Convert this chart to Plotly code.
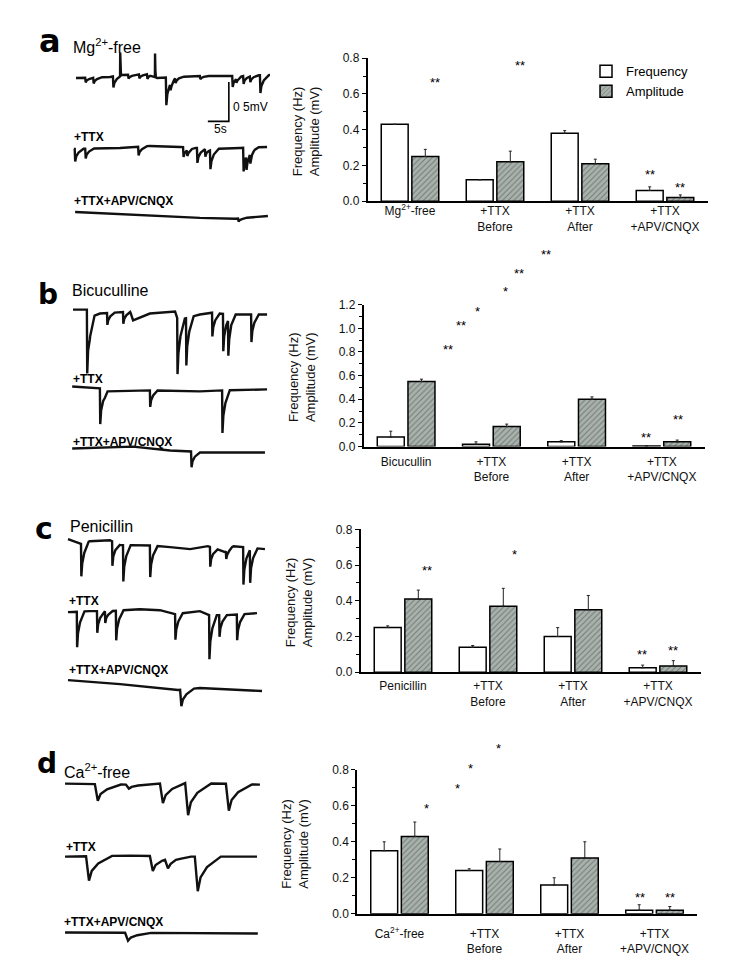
import numpy as np
import plotly.graph_objects as go

W, H = 749, 972
FONT = "Liberation Sans, Arial, sans-serif"

# ---------------- bar-chart data ----------------
cats_a = ["Mg<sup>2+</sup>-free", "+TTX<br>Before", "+TTX<br>After", "+TTX<br>+APV/CNQX"]
cats_b = ["Bicucullin", "+TTX<br>Before", "+TTX<br>After", "+TTX<br>+APV/CNQX"]
cats_c = ["Penicillin", "+TTX<br>Before", "+TTX<br>After", "+TTX<br>+APV/CNQX"]
cats_d = ["Ca<sup>2+</sup>-free", "+TTX<br>Before", "+TTX<br>After", "+TTX<br>+APV/CNQX"]

freq_a = [0.43, 0.12, 0.38, 0.06]
freq_err_a = [0.0, 0.0, 0.015, 0.02]
amp_a = [0.25, 0.22, 0.21, 0.02]
amp_err_a = [0.04, 0.06, 0.025, 0.015]

freq_b = [0.08, 0.02, 0.04, 0.005]
freq_err_b = [0.05, 0.02, 0.01, 0.0]
amp_b = [0.55, 0.17, 0.40, 0.04]
amp_err_b = [0.02, 0.02, 0.02, 0.015]

freq_c = [0.25, 0.14, 0.20, 0.025]
freq_err_c = [0.01, 0.01, 0.05, 0.015]
amp_c = [0.41, 0.37, 0.35, 0.035]
amp_err_c = [0.05, 0.10, 0.08, 0.03]

freq_d = [0.35, 0.24, 0.16, 0.02]
freq_err_d = [0.05, 0.01, 0.04, 0.03]
amp_d = [0.43, 0.29, 0.31, 0.02]
amp_err_d = [0.08, 0.07, 0.09, 0.02]

y_max = {"a": 0.8, "b": 1.2, "c": 0.8, "d": 0.8}

# significance marks: (category position, value, text)
stars_a = [(0.29, 0.667, "**"), (1.29, 0.76, "**"), (2.82, 0.15, "**"), (3.18, 0.077, "**")]
stars_b = [(0.49, 0.825, "**"), (0.64, 1.025, "**"), (0.84, 1.14, "*"), (1.17, 1.31, "*"),
           (1.32, 1.46, "**"), (1.64, 1.625, "**"), (2.81, 0.075, "**"), (3.19, 0.225, "**")]
stars_c = [(0.28, 0.568, "**"), (1.31, 0.657, "*"), (2.81, 0.10, "**"), (3.18, 0.12, "**")]
stars_d = [(0.32, 0.586, "*"), (0.68, 0.696, "*"), (0.84, 0.805, "*"), (1.16, 0.92, "*"),
           (2.83, 0.093, "**"), (3.18, 0.093, "**")]

# ---------------- electrophysiology traces (time s, potential mV) ----------------
a1_base_t = [3.8, 11.9, 14.5, 21.4, 23.1, 33.3, 40.5, 50.0]
a1_base_v = [-0.525, -0.513, -0.488, -0.475, -0.525, -0.5, -0.5, -0.488]
a1_ev_t = [6.0, 7.9, 12.6, 16.2, 18.8, 20.7, 25.2, 26.2, 27.4, 33.3, 41.0, 41.9, 43.6, 45.2, 47.6]
a1_ev_a = [0.06, 0.075, 0.14, 0.05, 0.05, 0.06, 0.35, 0.075, 0.06, 0.04, 0.14, 0.05, 0.1, 0.075, 0.225]
a1_spk_t = [14.3, 22.6]
a1_spk_a = [-0.3, -0.3]

a2_base_t = [3.3, 14.3, 21.4, 28.6, 36.9, 42.9, 49.3]
a2_base_v = [-1.425, -1.4125, -1.3875, -1.4, -1.425, -1.4125, -1.4]
a2_ev_t = [3.5, 6.0, 18.6, 29.3, 30.2, 32.6, 34.5, 35.7, 43.6, 44.3, 45.2]
a2_ev_a = [0.16, 0.125, 0.11, 0.125, 0.075, 0.19, 0.1, 0.24, 0.3, 0.175, 0.125]

a3_base_t = [3.6, 14.3, 23.8, 33.3, 41.7, 49.5]
a3_base_v = [-2.225, -2.25, -2.275, -2.3, -2.31, -2.275]
a3_ev_t = [42.4]
a3_ev_a = [0.04]

b1_base_t = [3.1, 6.4, 7.1, 9.5, 16.7, 17.4, 21.4, 27.4, 28.1, 33.3, 35.7, 40.5, 49.3]
b1_base_v = [-0.3375, -0.3375, -0.4375, -0.3875, -0.3625, -0.475, -0.3875, -0.3625, -0.475,
             -0.4, -0.375, -0.4, -0.4]
b1_ev_t = [6.4, 11.2, 15.0, 27.9, 30.0, 36.2, 38.8, 40.0, 45.5]
b1_ev_a = [0.8, 0.15, 0.15, 0.7, 0.6, 0.3, 0.475, 0.45, 0.35]

b2_base_t = [2.9, 9.5, 10.7, 21.4, 33.3, 38.6, 49.3]
b2_base_v = [-1.3125, -1.3375, -1.375, -1.3625, -1.375, -1.3625, -1.35]
b2_ev_t = [9.5, 21.4, 38.6]
b2_ev_a = [0.45, 0.21, 0.54]

b3_base_t = [2.9, 17.4, 26.2, 31.2, 33.3, 48.8]
b3_base_v = [-2.10, -2.075, -2.125, -2.1375, -2.15, -2.15]
b3_ev_t = [31.2]
b3_ev_a = [0.2]

c1_base_t = [1.9, 5.2, 7.1, 11.9, 14.3, 20.2, 26.2, 31.0, 35.2, 39.3, 41.0, 48.8]
c1_base_v = [-0.25, -0.3125, -0.275, -0.2625, -0.325, -0.325, -0.35, -0.375, -0.3375,
             -0.4125, -0.3375, -0.375]
c1_ev_t = [5.0, 12.4, 15.0, 21.4, 35.7, 39.5, 43.6, 45.2]
c1_ev_a = [0.41, 0.31, 0.46, 0.4, 0.25, 0.1, 0.475, 0.425]

c2_base_t = [1.9, 7.1, 11.9, 19.0, 23.8, 27.4, 33.3, 35.5, 40.5, 46.9]
c2_base_v = [-1.175, -1.1625, -1.1625, -1.1375, -1.15, -1.2, -1.1625, -1.2125, -1.2125, -1.1875]
c2_ev_t = [4.0, 8.8, 10.7, 13.3, 27.4, 35.5, 37.9, 42.1]
c2_ev_a = [0.45, 0.275, 0.15, 0.375, 0.325, 0.56, 0.275, 0.325]

c3_base_t = [1.9, 14.3, 28.1, 33.3, 48.1]
c3_base_v = [-2.0375, -2.0875, -2.1625, -2.1375, -2.175]
c3_ev_t = [28.6]
c3_ev_a = [0.21]

d1_base_t = [1.2, 16.7, 28.6, 47.6]
d1_base_v = [-0.35, -0.3625, -0.3375, -0.3625]
d1_ev_t = [8.3, 15.7, 23.8, 29.8, 39.5]
d1_ev_a = [0.21, 0.05, 0.25, 0.41, 0.34]

d2_base_t = [1.2, 16.7, 28.6, 46.9]
d2_base_v = [-1.275, -1.2625, -1.275, -1.275]
d2_ev_t = [6.2, 21.4, 25.0, 32.1]
d2_ev_a = [0.31, 0.19, 0.12, 0.44]

d3_base_t = [1.2, 47.1]
d3_base_v = [-2.2375, -2.25]
d3_ev_t = [15.5]
d3_ev_a = [0.1]

scale_t = 5.0    # s
scale_v = 0.5    # mV


def build_trace(base_t, base_v, event_sets):
    base_t = np.asarray(base_t, float)
    base_v = np.asarray(base_v, float)
    ts = set(base_t.tolist())
    kernels = []
    for ev_t, ev_a, rise, tau in event_sets:
        kt = np.array([0.0, rise, rise + 0.3 * tau, rise + tau, rise + 2.5 * tau])
        kv = np.array([0.0, 1.0, 0.6, 0.3, 0.0])
        kernels.append((ev_t, ev_a, kt, kv))
        for t0 in ev_t:
            ts.update((t0 + kt).tolist())
    t = np.array(sorted(ts))
    t = t[(t >= base_t[0]) & (t <= base_t[-1])]
    v = np.interp(t, base_t, base_v)
    for ev_t, ev_a, kt, kv in kernels:
        for t0, a in zip(ev_t, ev_a):
            v = v - a * np.interp(t - t0, kt, kv, left=0.0, right=0.0)
    return t, v


FAST = (0.12, 0.8)
SLOW = (0.7, 2.2)
traces_spec = {
    5: [
        build_trace(a1_base_t, a1_base_v, [(a1_ev_t, a1_ev_a, *FAST), (a1_spk_t, a1_spk_a, 0.03, 0.08)]),
        build_trace(a2_base_t, a2_base_v, [(a2_ev_t, a2_ev_a, *FAST)]),
        build_trace(a3_base_t, a3_base_v, [(a3_ev_t, a3_ev_a, *FAST)]),
    ],
    6: [
        build_trace(b1_base_t, b1_base_v, [(b1_ev_t, b1_ev_a, 0.08, 0.7)]),
        build_trace(b2_base_t, b2_base_v, [(b2_ev_t, b2_ev_a, 0.08, 0.7)]),
        build_trace(b3_base_t, b3_base_v, [(b3_ev_t, b3_ev_a, *FAST)]),
    ],
    7: [
        build_trace(c1_base_t, c1_base_v, [(c1_ev_t, c1_ev_a, 0.08, 0.7)]),
        build_trace(c2_base_t, c2_base_v, [(c2_ev_t, c2_ev_a, 0.08, 0.7)]),
        build_trace(c3_base_t, c3_base_v, [(c3_ev_t, c3_ev_a, 0.3, 1.2)]),
    ],
    8: [
        build_trace(d1_base_t, d1_base_v, [(d1_ev_t, d1_ev_a, *SLOW)]),
        build_trace(d2_base_t, d2_base_v, [(d2_ev_t, d2_ev_a, *SLOW)]),
        build_trace(d3_base_t, d3_base_v, [(d3_ev_t, d3_ev_a, *SLOW)]),
    ],
}


def px(x):
    return x / W


def py(y):
    return 1 - y / H


fig = go.Figure()

# ---------------- bar panels ----------------
panels = [
    ("", cats_a, freq_a, freq_err_a, amp_a, amp_err_a, stars_a, "a", (367.5, 707.5), (52, 197), -2),
    ("2", cats_b, freq_b, freq_err_b, amp_b, amp_err_b, stars_b, "b", (363.5, 704.5), (302, 446), 3),
    ("3", cats_c, freq_c, freq_err_c, amp_c, amp_err_c, stars_c, "c", (360.5, 700.5), (530, 675), 2),
    ("4", cats_d, freq_d, freq_err_d, amp_d, amp_err_d, stars_d, "d", (357, 697), (774, 920), 8),
]

AMP_FILL = "#a9b2ad"
annotations = []
layout_axes = {}
for suf, cats, fr, fre, am, ame, stars, key, xd, yd, lab_off in panels:
    xa, ya = "x" + suf, "y" + suf
    fig.add_trace(go.Bar(
        x=cats, y=fr, name="Frequency", xaxis=xa, yaxis=ya,
        marker=dict(color="white", line=dict(color="black", width=1.5)),
        error_y=dict(type="data", array=fre, arrayminus=[0] * len(fre), symmetric=False,
                     color="#222", thickness=1, width=1.5),
        showlegend=(key == "a"), legendgroup="f",
    ))
    fig.add_trace(go.Bar(
        x=cats, y=am, name="Amplitude", xaxis=xa, yaxis=ya,
        marker=dict(color=AMP_FILL, line=dict(color="black", width=1.5),
                    pattern=dict(shape="/", fgcolor="#3d423f", bgcolor=AMP_FILL,
                                 size=4, solidity=0.25)),
        error_y=dict(type="data", array=ame, arrayminus=[0] * len(ame), symmetric=False,
                     color="#222", thickness=1, width=1.5),
        showlegend=(key == "a"), legendgroup="m",
    ))
    layout_axes["xaxis" + suf] = dict(
        domain=[px(xd[0]), px(xd[1])], anchor=ya, type="category",
        categoryorder="array", categoryarray=cats, range=[-0.5, 3.5],
        showline=True, linecolor="black", linewidth=1.5, ticks="", showgrid=False,
        tickfont=dict(size=12, family=FONT, color="#111"), ticklabelstandoff=lab_off,
    )
    layout_axes["yaxis" + suf] = dict(
        domain=[py(yd[1]), py(yd[0])], anchor=xa, range=[0, y_max[key]],
        tickvals=list(np.round(np.arange(0, y_max[key] + 0.01, 0.2), 1)),
        tickformat=".1f", showline=True, linecolor="black", linewidth=1.5,
        ticks="outside", ticklen=4, tickwidth=1.2, tickcolor="black",
        minor=dict(dtick=0.1, ticks="outside", ticklen=3, tickcolor="black", tickwidth=1),
        showgrid=False, zeroline=False,
        tickfont=dict(size=12, family=FONT, color="#111"),
    )
    for sx, sy, st in stars:
        xp = xd[0] + (sx + 0.5) / 4.0 * (xd[1] - xd[0])
        yp = yd[1] - sy / y_max[key] * (yd[1] - yd[0])
        annotations.append(dict(x=px(xp), y=py(yp), xref="paper", yref="paper", text=st,
                                showarrow=False,
                                font=dict(size=13, family=FONT, color="black"),
                                xanchor="center", yanchor="middle"))
    annotations.append(dict(
        x=px(xd[0] - 62), y=py((yd[0] + yd[1]) / 2 + 2), xref="paper", yref="paper",
        text="Frequency (Hz)<br>Amplitude (mV)", textangle=-90, showarrow=False,
        font=dict(size=13, family=FONT, color="#111"), xanchor="center", yanchor="middle"))

# ---------------- trace panels ----------------
trace_tops = {5: 30, 6: 280, 7: 520, 8: 760}
for n, top in trace_tops.items():
    xa, ya = "x%d" % n, "y%d" % n
    for t, v in traces_spec[n]:
        fig.add_trace(go.Scatter(x=t, y=v, mode="lines", xaxis=xa, yaxis=ya,
                                 line=dict(color="#111", width=2.4), showlegend=False,
                                 hoverinfo="skip"))
    layout_axes["xaxis%d" % n] = dict(domain=[px(60), px(275)], range=[0, 215 / 4.2],
                                      visible=False, anchor=ya)
    layout_axes["yaxis%d" % n] = dict(domain=[py(top + 200), py(top)], range=[-2.5, 0],
                                      visible=False, anchor=xa)

sb_t1 = 40.2
sb_v0 = -0.575
fig.add_trace(go.Scatter(
    x=[sb_t1, sb_t1, sb_t1 - scale_t], y=[sb_v0, sb_v0 - scale_v, sb_v0 - scale_v],
    mode="lines", xaxis="x5", yaxis="y5", line=dict(color="black", width=1.6),
    showlegend=False, hoverinfo="skip"))


def label(x, y, text, size, bold=False, anchor="left", family=FONT):
    annotations.append(dict(x=px(x), y=py(y), xref="paper", yref="paper", text=text,
                            showarrow=False, xanchor=anchor, yanchor="middle",
                            font=dict(size=size, family=family, color="black",
                                      weight="bold" if bold else "normal")))


BIG = "DejaVu Sans, Liberation Sans, sans-serif"
label(50, 35, "a", 32, True, "center", BIG)
label(48, 292, "b", 28, True, "center", BIG)
label(44, 529, "c", 30, True, "center", BIG)
label(47, 768, "d", 28, True, "center", BIG)

label(71, 40, "Mg<sup>2+</sup>-free", 16)
label(70, 288, "Bicuculline", 16)
label(68, 527, "Penicillin", 16)
label(62, 775, "Ca<sup>2+</sup>-free", 16)

for (x, y) in [(72, 132), (71, 377), (67, 603), (64, 852)]:
    label(x, y, "+TTX", 12, True)
for (x, y) in [(72, 197), (71, 441), (67, 673), (62, 928)]:
    label(x, y, "+TTX+APV/CNQX", 12, True)

label(231, 101, "0 5mV", 12)
label(220, 124, "5s", 12, False, "center")

fig.update_layout(
    width=W, height=H, margin=dict(l=0, r=0, t=0, b=0), autosize=False,
    paper_bgcolor="white", plot_bgcolor="rgba(0,0,0,0)",
    barmode="group", bargap=0.28, bargroupgap=0.12,
    font=dict(family=FONT, color="black"),
    legend=dict(x=px(586), y=py(50), xanchor="left", yanchor="top",
                font=dict(size=13, family=FONT), bgcolor="rgba(0,0,0,0)",
                itemwidth=30, tracegroupgap=0),
    annotations=annotations,
    **layout_axes,
)

POST = (
    "var gd=document.getElementById('{plot_id}');"
    "gd.style.position='fixed';gd.style.top='0px';gd.style.left='0px';"
    "document.documentElement.style.margin='0';document.documentElement.style.padding='0';"
    "document.documentElement.style.overflow='hidden';"
    "document.documentElement.style.height='972px';"
    "document.body.style.margin='0';document.body.style.padding='0';"
    "document.body.style.overflow='hidden';document.body.style.height='972px';"
)

fig.write_html("out.html", config={"displayModeBar": False}, post_script=POST)
